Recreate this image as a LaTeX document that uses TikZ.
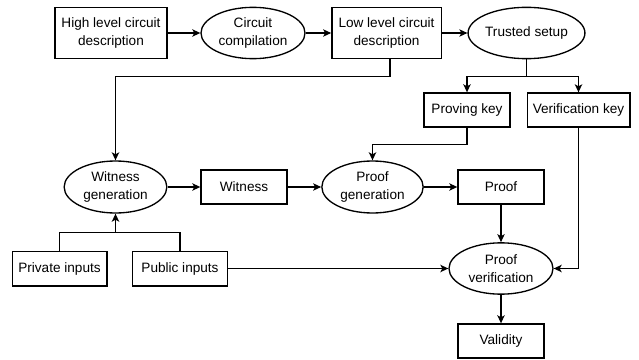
\documentclass[tikz,border=0pt]{standalone}
\usepackage{fontspec}
\setmainfont{Liberation Sans}
\usetikzlibrary{shapes.geometric, arrows.meta}

\begin{document}
\begin{tikzpicture}[x=0.75pt, y=-0.75pt,
					>={Stealth[length=6pt,width=5.5pt,inset=1.5pt]},
					line width=1pt,
					font=\fontsize{10.2}{13}\selectfont,
					box/.style={draw, rectangle, align=center, inner sep=0pt, minimum height=25.5pt},
					oval/.style={draw, ellipse, align=center, inner sep=0pt, minimum height=38.5pt}]

	\useasboundingbox (0,0) rectangle (639,360);

	% top row
	\node[box, minimum width=84pt, minimum height=38.5pt] (high) at (111,33) {High level circuit\\description};
	\node[oval, minimum width=78pt] (comp) at (253,33) {Circuit\\compilation};
	\node[box, minimum width=82pt, minimum height=38.5pt] (low) at (386.5,33) {Low level circuit\\description};
	\node[oval, minimum width=77pt] (setup) at (526.5,33) {Trusted setup};

	% keys
	\node[box, minimum width=64.5pt] (pk) at (467,110) {Proving key};
	\node[box, minimum width=77pt] (vk) at (578.5,110) {Verification key};

	% middle row
	\node[oval, minimum width=77pt, minimum height=39pt] (wgen) at (115.5,187) {Witness\\generation};
	\node[box, minimum width=64.5pt] (wit) at (244,187) {Witness};
	\node[oval, minimum width=76pt, minimum height=39pt] (pgen) at (372.5,187) {Proof\\generation};
	\node[box, minimum width=64.5pt] (proof) at (501,187) {Proof};

	% inputs, verification
	\node[box, minimum width=71pt, minimum height=26pt] (priv) at (59.5,268.5) {Private inputs};
	\node[box, minimum width=71pt, minimum height=26pt] (pub) at (180,268.5) {Public inputs};
	\node[oval, minimum width=78pt] (pver) at (501,268.5) {Proof\\verification};
	\node[box, minimum width=64.5pt] (valid) at (501,341) {Validity};

	\coordinate (split) at ([yshift=-12.75pt]setup.south);
	\coordinate (join) at ([yshift=-14.25pt]wgen.south);

	\draw[->] (high) -- (comp);
	\draw[->] (comp) -- (low);
	\draw[->] (low) -- (setup);
	\draw[->] ([xshift=2.5pt]low.south) -- ++(0,17) -| (wgen.north);
	\draw (setup.south) -- (split);
	\draw[->] (split) -| (pk.north);
	\draw[->] (split) -| (vk.north);
	\draw[->] (pk.south) -- ++(0,17) -| (pgen.north);
	\draw[->] (wgen) -- (wit);
	\draw[->] (wit) -- (pgen);
	\draw[->] (pgen) -- (proof);
	\draw[->] (proof) -- (pver);
	\draw[->] (vk.south) |- (pver.east);
	\draw[->] (pub) -- (pver);
	\draw[->] (pver) -- (valid);
	\draw (priv.north) |- (join) -| (pub.north);
	\draw[->] (join) -- (wgen.south);
\end{tikzpicture}
\end{document}
